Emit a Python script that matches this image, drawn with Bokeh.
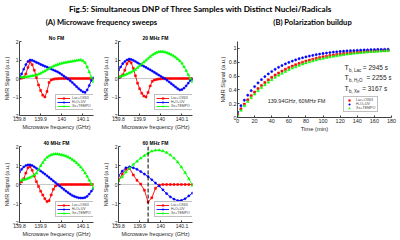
from bokeh.plotting import figure
from bokeh.layouts import row, column
from bokeh.models import Span, Legend, LegendItem, FixedTicker, CustomJSTickFormatter, Range1d
from bokeh.embed import file_html
from bokeh.resources import INLINE
from bokeh.core.properties import value

# ---------------- data ----------------
freq = [139.80, 139.81, 139.82, 139.83, 139.84, 139.85, 139.86, 139.87, 139.88, 139.89,
        139.90, 139.91, 139.92, 139.93, 139.94, 139.95, 139.96, 139.97, 139.98, 139.99,
        140.00, 140.01, 140.02, 140.03, 140.04, 140.05, 140.06, 140.07, 140.08, 140.09,
        140.10, 140.11, 140.12, 140.13, 140.14, 140.15]

nofm_lac = [0.00, 0.02, 0.06, 0.25, 0.60, 0.90, 0.75, 0.45, 0.05, -0.35,
            -0.65, -0.90, -1.00, -0.70, -0.22, -0.08, -0.04, -0.02, -0.01, 0.00,
            0, 0, 0, 0, 0, 0, 0, 0, 0, 0, 0, 0, 0, 0, 0, 0]
nofm_h2o = [0.05, 0.25, 0.50, 0.75, 0.92, 1.00, 0.98, 0.93, 0.87, 0.82,
            0.76, 0.71, 0.66, 0.62, 0.57, 0.51, 0.46, 0.41, 0.36, 0.29,
            0.21, 0.13, 0.05, -0.03, -0.12, -0.22, -0.33, -0.44, -0.55, -0.64,
            -0.72, -0.75, -0.62, -0.38, -0.10, 0.03]
nofm_xe = [0.05, 0.06, 0.07, 0.08, 0.10, 0.12, 0.14, 0.16, 0.19, 0.23,
           0.28, 0.34, 0.40, 0.47, 0.54, 0.60, 0.66, 0.71, 0.75, 0.79,
           0.82, 0.85, 0.87, 0.89, 0.91, 0.93, 0.95, 0.97, 0.99, 1.00,
           0.95, 0.85, 0.62, 0.35, 0.06, -0.18]

fm20_lac = [0.08, 0.10, 0.20, 0.45, 0.80, 0.95, 0.85, 0.55, 0.15, -0.25,
            -0.55, -0.80, -0.95, -1.00, -0.75, -0.40, -0.15, -0.08, -0.05, -0.03,
            -0.02, -0.01, 0, 0, 0, 0, 0, 0, 0, 0, 0, 0, 0, 0, 0, 0]
fm20_h2o = [0.45, 0.62, 0.80, 0.92, 1.00, 1.05, 1.03, 0.98, 0.92, 0.85,
            0.78, 0.72, 0.66, 0.60, 0.53, 0.47, 0.40, 0.33, 0.26, 0.19,
            0.12, 0.05, -0.02, -0.10, -0.19, -0.28, -0.37, -0.46, -0.55, -0.62,
            -0.60, -0.52, -0.40, -0.25, -0.10, -0.05]
fm20_xe = [0.08, 0.11, 0.15, 0.19, 0.24, 0.29, 0.34, 0.41, 0.48, 0.58,
           0.68, 0.78, 0.88, 0.98, 1.08, 1.18, 1.27, 1.34, 1.40, 1.44,
           1.45, 1.45, 1.42, 1.38, 1.34, 1.29, 1.22, 1.14, 1.05, 0.95,
           0.82, 0.63, 0.42, 0.20, 0.00, -0.18]

fm40_lac = [0.10, 0.15, 0.30, 0.60, 0.88, 0.95, 0.75, 0.45, 0.15, -0.10,
            -0.35, -0.55, -0.75, -0.90, -0.85, -0.55, -0.25, -0.08, -0.03, -0.01,
            0, 0, 0, 0, 0, 0, 0, 0, 0, 0, 0, 0, 0, 0, 0, 0]
fm40_h2o = [0.65, 0.80, 0.92, 1.00, 1.03, 1.03, 1.00, 0.93, 0.85, 0.78,
            0.71, 0.63, 0.55, 0.46, 0.37, 0.28, 0.19, 0.10, 0.01, -0.08,
            -0.17, -0.26, -0.35, -0.43, -0.51, -0.58, -0.63, -0.67, -0.70, -0.71,
            -0.71, -0.69, -0.62, -0.50, -0.35, -0.22]
fm40_xe = [0.20, 0.22, 0.25, 0.28, 0.32, 0.37, 0.43, 0.50, 0.60, 0.78,
           0.98, 1.15, 1.30, 1.42, 1.50, 1.56, 1.59, 1.60, 1.60, 1.58,
           1.56, 1.53, 1.49, 1.44, 1.38, 1.31, 1.23, 1.14, 1.03, 0.91,
           0.77, 0.60, 0.42, 0.22, 0.02, -0.20]

freq60 = [139.8000, 139.8175, 139.8350, 139.8525, 139.8700, 139.8875, 139.9050,
          139.9225, 139.9400, 139.9575, 139.9750, 139.9925, 140.0100, 140.0275,
          140.0450, 140.0625, 140.0800, 140.0975, 140.1150, 140.1325, 140.1500]
fm60_lac = [0.20, 0.55, 0.80, 0.85, 0.50, 0.22, 0.02, -0.30, -0.92, -0.70, -0.20,
            -0.03, 0, 0, 0, 0, 0, 0, 0, 0, 0]
fm60_h2o = [0.45, 0.70, 0.88, 0.93, 0.88, 0.80, 0.68, 0.55, 0.42, 0.25, 0.08,
            -0.08, -0.28, -0.48, -0.65, -0.77, -0.85, -0.84, -0.75, -0.60, -0.45]
fm60_xe = [0.20, 0.40, 0.65, 0.85, 1.05, 1.22, 1.38, 1.52, 1.65, 1.75, 1.80,
           1.80, 1.76, 1.68, 1.55, 1.38, 1.18, 0.92, 0.62, 0.30, -0.05]
fm60_marker = 139.94

time_min = [0, 4, 8, 12, 16, 20, 24, 28, 32, 36, 40, 44, 48, 52, 56, 60, 64, 68, 72, 76,
            80, 84, 88, 92, 96, 100, 104, 108, 112, 116, 120, 124, 128, 132, 136, 140,
            144, 148, 152, 156, 160, 164, 168, 172, 176]
build_lac = [0.050, 0.124, 0.193, 0.256, 0.315, 0.368, 0.418, 0.463, 0.506, 0.544,
             0.580, 0.613, 0.643, 0.671, 0.697, 0.721, 0.743, 0.763, 0.782, 0.799,
             0.815, 0.829, 0.842, 0.855, 0.866, 0.877, 0.886, 0.895, 0.903, 0.911,
             0.918, 0.924, 0.930, 0.935, 0.941, 0.946, 0.950, 0.953, 0.957, 0.961,
             0.964, 0.967, 0.970, 0.972, 0.974]
build_h2o = [0.080, 0.170, 0.250, 0.322, 0.388, 0.447, 0.500, 0.548, 0.591, 0.630,
             0.665, 0.697, 0.726, 0.752, 0.776, 0.797, 0.816, 0.834, 0.850, 0.864,
             0.877, 0.889, 0.899, 0.909, 0.918, 0.926, 0.933, 0.939, 0.945, 0.950,
             0.955, 0.959, 0.963, 0.966, 0.969, 0.972, 0.975, 0.977, 0.979, 0.981,
             0.983, 0.984, 0.985, 0.986, 0.987]
build_xe = [0.030, 0.101, 0.167, 0.227, 0.283, 0.336, 0.384, 0.430, 0.471, 0.509,
            0.545, 0.579, 0.609, 0.638, 0.664, 0.689, 0.712, 0.732, 0.752, 0.770,
            0.787, 0.803, 0.817, 0.830, 0.843, 0.854, 0.865, 0.875, 0.884, 0.892,
            0.900, 0.908, 0.915, 0.920, 0.926, 0.932, 0.937, 0.941, 0.946, 0.950,
            0.953, 0.956, 0.959, 0.962, 0.965]

series_names = ["Lac+OX63", "H\u2082O+UV", "Xe+TEMPO"]
series_colors = ["#ff0000", "#0000ff", "#00ff00"]
sweep_titles = ["No FM", "20 MHz FM", "40 MHz FM", "60 MHz FM"]
freq_ticks = [139.8, 139.9, 140.0, 140.1]
signal_ticks = [-2, -1, 0, 1, 2]
time_ticks = [0, 20, 40, 60, 80, 100, 120, 140, 160, 180]
build_ticks = [0, 0.2, 0.4, 0.6, 0.8, 1.0]

AX = "#404040"
TXT = "#262626"
FONT = "Liberation Sans"


def style_axes(p, tick_font="5px", label_font="5.5px"):
    p.xgrid.visible = False
    p.ygrid.visible = False
    p.outline_line_color = None
    for ax in (p.xaxis[0], p.yaxis[0]):
        ax.axis_line_color = AX
        ax.major_tick_line_color = AX
        ax.major_tick_in = 2
        ax.major_tick_out = 0
        ax.minor_tick_line_color = None
        ax.major_label_text_font = FONT
        ax.major_label_text_font_size = tick_font
        ax.major_label_text_color = TXT
        ax.major_label_standoff = 1
        ax.axis_label_text_font = FONT
        ax.axis_label_text_font_size = label_font
        ax.axis_label_text_font_style = "normal"
        ax.axis_label_text_color = TXT
        ax.axis_label_standoff = 0


def sweep_panel(title, xs, lac, h2o, xe, w, h, left, right, top, bottom, marker_line=None):
    p = figure(width=w, height=h, x_range=Range1d(139.8, 140.15), y_range=Range1d(-2, 2),
               output_backend="svg", toolbar_location=None, title=title,
               min_border_left=left, min_border_right=right,
               min_border_top=top, min_border_bottom=bottom)
    p.title.align = "center"
    p.title.text_font = FONT
    p.title.text_font_size = "5px"
    p.title.text_font_style = "bold"
    p.title.text_color = "#000000"
    p.title.standoff = 2
    style_axes(p)
    p.xaxis.axis_label = "Microwave frequency (GHz)"
    p.yaxis.axis_label = "NMR Signal (a.u.)"
    p.xaxis.ticker = FixedTicker(ticks=freq_ticks)
    p.xaxis.formatter = CustomJSTickFormatter(code="return (Math.round(tick*10)/10).toString();")
    p.yaxis.ticker = FixedTicker(ticks=signal_ticks)
    p.add_layout(Span(location=0, dimension="width", line_color="#c8c8c8",
                      line_width=1, level="underlay"))
    markers = ["square", "circle", "triangle"]
    sizes = [2.0, 2.2, 2.8]
    items = []
    for ys, name, col, mk, sz in zip([lac, h2o, xe], series_names, series_colors, markers, sizes):
        r1 = p.line(xs, ys, line_color=col, line_width=0.9)
        r2 = p.scatter(xs, ys, marker=mk, size=sz, fill_color=col, line_color=col, line_width=0.5)
        items.append(LegendItem(label=name, renderers=[r1, r2]))
    if marker_line is not None:
        p.add_layout(Span(location=marker_line, dimension="height", line_color="#000000",
                          line_width=1, line_dash="4 2"))
    leg = Legend(items=items, location=(36, 5), margin=0, padding=1, spacing=0,
                 label_text_font=FONT, label_text_font_size="3.5px", label_height=4,
                 glyph_height=4, glyph_width=13, label_standoff=2,
                 border_line_color="#808080", border_line_width=0.6,
                 background_fill_color="#ffffff", background_fill_alpha=1)
    p.add_layout(leg)
    return p


# ---------------- header ----------------
hdr = figure(width=400, height=27, x_range=Range1d(0, 400), y_range=Range1d(27, 0),
             output_backend="svg", toolbar_location=None, min_border=0)
hdr.axis.visible = False
hdr.xgrid.visible = False
hdr.ygrid.visible = False
hdr.outline_line_color = None
hdr.text(x=[200], y=[8], text=["Fig.5: Simultaneous DNP of Three Samples with Distinct Nuclei/Radicals"],
         text_align="center", text_baseline="middle", text_font=value("Lato"),
         text_font_style="bold", text_font_size="8.2px", text_color="#000000")
hdr.text(x=[101, 312], y=[21, 21.5], text=["(A) Microwave frequency sweeps", "(B) Polarization buildup"],
         text_align="center", text_baseline="middle", text_font=value("Lato"),
         text_font_style="bold", text_font_size="7.6px", text_color="#000000")

# ---------------- sweeps ----------------
p1 = sweep_panel(sweep_titles[0], freq, nofm_lac, nofm_h2o, nofm_xe, 99, 105, 15, 6, 14, 14)
p2 = sweep_panel(sweep_titles[1], freq, fm20_lac, fm20_h2o, fm20_xe, 101, 105, 15, 8, 14, 14)
p3 = sweep_panel(sweep_titles[2], freq, fm40_lac, fm40_h2o, fm40_xe, 99, 108, 15, 6, 14, 18)
p4 = sweep_panel(sweep_titles[3], freq60, fm60_lac, fm60_h2o, fm60_xe, 101, 108, 15, 8, 14, 18,
                 marker_line=fm60_marker)

# ---------------- buildup ----------------
pb = figure(width=200, height=213, x_range=Range1d(0, 180), y_range=Range1d(0, 1.1),
            output_backend="svg", toolbar_location=None,
            min_border_left=37, min_border_right=9, min_border_top=14, min_border_bottom=123)
style_axes(pb, tick_font="5.5px", label_font="5.8px")
pb.xaxis.axis_label = "Time (min)"
pb.yaxis.axis_label = "NMR Signal (a.u.)"
pb.xaxis.ticker = FixedTicker(ticks=time_ticks)
pb.yaxis.ticker = FixedTicker(ticks=build_ticks)
pb.yaxis.formatter = CustomJSTickFormatter(code="return (Math.round(tick*10)/10).toString();")
bitems = []
for ys, name, col, mk, sz in zip([build_lac, build_h2o, build_xe], series_names, series_colors,
                                 ["square", "circle", "triangle"], [2.2, 2.3, 2.8]):
    r = pb.scatter(time_min, ys, marker=mk, size=sz, fill_color=col, line_color=col, line_width=0.5)
    bitems.append(LegendItem(label=name, renderers=[r]))
bleg = Legend(items=bitems, location=(106, 5), margin=0, padding=1, spacing=0,
              label_text_font=FONT, label_text_font_size="3.6px", label_height=4,
              glyph_height=4, glyph_width=8, label_standoff=3,
              border_line_color="#808080", border_line_width=0.6,
              background_fill_color="#ffffff", background_fill_alpha=1)
pb.add_layout(bleg)

tb_main = ["T", "T", "T"]
tb_sub = ["b, Lac", "b, H\u2082O", "b, Xe"]
tb_val = ["= 2945 s", "= 2255 s", "= 3167 s"]
tb_y = [0.72, 0.584, 0.416]
tb_x_eq = [146.5, 150.8, 145.7]
pb.text(x=[125, 125, 125], y=tb_y, text=tb_main, text_align="left", text_baseline="middle",
        text_font=value(FONT), text_font_size="7px", text_color=TXT)
pb.text(x=[130.2, 130.2, 130.2], y=[v - 0.045 for v in tb_y], text=tb_sub, text_align="left",
        text_baseline="middle", text_font=value(FONT), text_font_size="4.5px", text_color=TXT)
pb.text(x=tb_x_eq, y=tb_y, text=tb_val, text_align="left", text_baseline="middle",
        text_font=value(FONT), text_font_size="6.5px", text_color=TXT)
pb.text(x=[69], y=[0.232], text=["139.94GHz, 60MHz FM"], text_align="center",
        text_baseline="middle", text_font=value(FONT), text_font_size="5.5px", text_color=TXT)

left_block = column(row(p1, p2), row(p3, p4))
layout = column(hdr, row(left_block, pb))

open("out.html", "w").write(file_html(layout, INLINE))
